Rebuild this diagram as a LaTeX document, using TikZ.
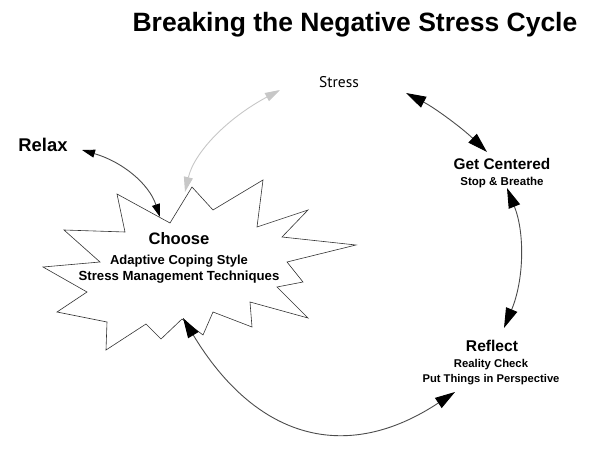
\documentclass[tikz,border=0pt]{standalone}
\usepackage{fontspec}
\setmainfont{Liberation Sans}
\newfontfamily\stressfont{PT Sans}
\usetikzlibrary{arrows.meta}

\begin{document}
\begin{tikzpicture}[x=1pt,y=-1pt,
    every node/.style={inner sep=0pt,anchor=base},
    head/.style={font=\bfseries\fontsize{#1}{#1}\selectfont},
    burst/.style={draw=black!80,line width=0.6pt,line join=miter,fill=white},
    big/.style={{Triangle[length=20pt,width=12pt,black]}-{Triangle[length=20pt,width=12pt,black]},
      draw=black!70,line width=0.9pt},
    small/.style={{Triangle[length=13pt,width=8pt,black]}-{Triangle[length=13pt,width=8pt,black]},
      draw=black!70,line width=0.9pt},
    faint/.style={{Triangle[length=15pt,width=9pt]}-{Triangle[length=15pt,width=9pt]},
      draw=black!22,line width=0.9pt}]
  \useasboundingbox (0,0) rectangle (600,454);

  % the burst round Choose
  \draw[burst] (117,194) -- (170,223) -- (192,187) -- (213,210) -- (263,180)
    -- (257,227) -- (308,210) -- (282,237) -- (356,245) -- (287,262)
    -- (303,282) -- (277,287) -- (308,318) -- (250,302) -- (252,327)
    -- (213,312) -- (203,335) -- (182,319) -- (161,339) -- (146,324)
    -- (106,350) -- (107,322) -- (57,312) -- (87,292) -- (43,267)
    -- (100,262) -- (64,230) -- (125,232) -- cycle;

  \node[head=26.5] (title) at (355,32) {Breaking the Negative Stress Cycle};
  \node[font=\stressfont\fontsize{15.5}{15.5}\selectfont] (stress) at (339,88) {Stress};
  \node[head=18.4] (relax) at (43,152) {Relax};
  \node[head=15.4] (centered) at (502,170) {Get Centered};
  \node[head=11.5] (breathe) at (502,186) {Stop \& Breathe};
  \node[head=16.6] (choose) at (179,245) {Choose};
  \node[head=13] (coping) at (179,265) {Adaptive Coping Style};
  \node[head=13.2] (techniques) at (179,281) {Stress Management Techniques};
  \node[head=15.6] (reflect) at (492,352) {Reflect};
  \node[head=11.3] (reality) at (491,367) {Reality Check};
  \node[head=11.2] (perspective) at (491,383) {Put Things in Perspective};

  % arrow ends
  \coordinate (stress-r) at (406,93);
  \coordinate (centered-t) at (487,152);
  \coordinate (centered-b) at (507,188);
  \coordinate (reflect-t) at (504,328);
  \coordinate (reflect-b) at (455,392);
  \coordinate (burst-b) at (183,318);
  \coordinate (burst-t) at (160,217);
  \coordinate (relax-r) at (82,150);
  \coordinate (burst-tr) at (185,192);
  \coordinate (stress-l) at (280,90);

  \draw[big] (stress-r) .. controls (435,108) and (462,128) .. (centered-t);
  \draw[big] (centered-b) .. controls (525,233) and (524,280) .. (reflect-t);
  \draw[big] (reflect-b) .. controls (346,464) and (256,439) .. (burst-b);
  \draw[small] (burst-t) .. controls (149,184) and (123,162) .. (relax-r);
  \draw[faint] (burst-tr) .. controls (194,153) and (226,119) .. (stress-l);
\end{tikzpicture}
\end{document}
